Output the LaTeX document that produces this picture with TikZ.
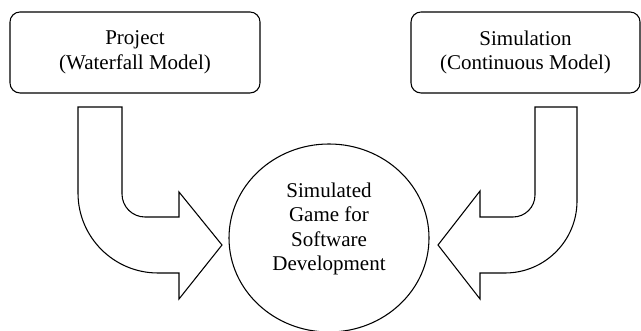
\documentclass[tikz,border=0pt]{standalone}
\usepackage{fontspec}
\setmainfont{Liberation Serif}
\usetikzlibrary{positioning, shapes.geometric}

\begin{document}
\begin{tikzpicture}[x=0.75pt, y=0.75pt, line width=0.8pt,
    font=\fontsize{15.75}{18.4}\selectfont,
    box/.style={draw, rounded corners=7.5pt, minimum height=60.75pt, align=center},
    game/.style={draw, ellipse, inner sep=0pt, minimum width=150pt, minimum height=141pt}]
    \useasboundingbox (0,0) rectangle (641,331);

    % BOXES
    \node[box, minimum width=187.5pt] (project) at (135,278.5) {Project\\(Waterfall Model)};
    \node[box, minimum width=171.75pt] (simulation) at (525.5,278.5) {Simulation\\(Continuous Model)};

    % GAME
    \node[game] (game) at (329,93) {};
    \node[align=center] (gametext) at (329,102) {Simulated\\Game for\\Software\\Development};

    % LEFT ARROW
    \draw (78,224) -- (122,224) -- (122,137) arc[start angle=180, end angle=270, radius=23]
        -- (179,114) -- (179,139) -- (222,86) -- (179,32) -- (179,58) -- (158,58)
        arc[start angle=270, end angle=180, radius=80] -- cycle;

    % RIGHT ARROW
    \draw (577,224) -- (535,224) -- (535,136) arc[start angle=0, end angle=-90, radius=22]
        -- (480,114) -- (480,140) -- (438,86) -- (480,32) -- (480,58) -- (505,58)
        arc[start angle=-90, end angle=0, radius=72] -- cycle;

\end{tikzpicture}
\end{document}
